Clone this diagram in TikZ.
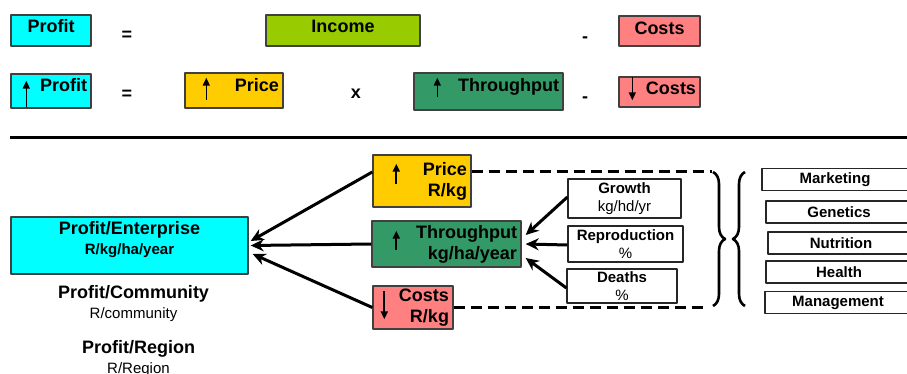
\documentclass[tikz,border=0pt]{standalone}
\usepackage{fontspec}
\setmainfont{Liberation Sans}
\usetikzlibrary{arrows.meta,decorations.pathreplacing}
\definecolor{cyanbox}{HTML}{00FFFF}
\definecolor{incomegreen}{HTML}{99CC00}
\definecolor{costred}{HTML}{FF8080}
\definecolor{pricegold}{HTML}{FFCC00}
\definecolor{thrugreen}{HTML}{339966}
\tikzset{
  box/.style={draw=black!75, line width=1.4pt, inner xsep=4pt, inner ysep=0pt, font=\fontsize{18}{21}\selectfont\bfseries},
  sbox/.style={draw=black!85, line width=1.2pt, fill=white, inner sep=0pt, font=\fontsize{15}{18}\selectfont},
  sym/.style={anchor=base, font=\fontsize{18}{21}\selectfont\bfseries},
  arr/.style={line width=3pt, -{Stealth[length=13pt,width=12pt]}},
  tick/.style={line width=1.6pt, -{Triangle[length=8pt,width=7pt]}},
  dashline/.style={line width=3pt, dash pattern=on 11pt off 6pt},
  curly/.style={decorate, decoration={brace, amplitude=#1}, line width=2.6pt}
}
\begin{document}
\begin{tikzpicture}[x=1pt, y=-1pt, line join=round]
\useasboundingbox (0,0) rectangle (907,374);
\clip (0,0) rectangle (907,374);
% first row
\node[box, fill=cyanbox, minimum width=80pt, minimum height=31pt, text depth=9pt] (profA) at (51,30.5) {Profit};
\node[sym] (eqA) at (127,40.8) {=};
\node[box, fill=incomegreen, minimum width=154pt, minimum height=31pt, text depth=9pt] (income) at (343,30.5) {Income};
\node[sym] (minA) at (585,42.5) {-};
\node[box, fill=costred, minimum width=81pt, minimum height=30pt, text depth=6pt] (costA) at (659.5,31) {Costs};
% second row
\node[box, fill=cyanbox, text width=72pt, align=right, minimum height=34pt, text depth=12pt] (profB) at (51,91) {Profit};
\draw[tick] (profB.south west) ++(16,-2) -- ++(0,-26);
\node[sym] (eqB) at (127,99.8) {=};
\node[box, fill=pricegold, text width=90pt, align=right, minimum height=35pt, text depth=11pt] (priceB) at (234,90.5) {Price};
\draw[tick] (priceB.south west) ++(22,-9) -- ++(0,-22);
\node[sym] (times) at (356,98.7) {x};
\node[box, fill=thrugreen, text width=141pt, align=right, minimum height=37pt, text depth=13pt] (thruB) at (488.5,91.5) {Throughput};
\draw[tick] (thruB.south west) ++(24,-14) -- ++(0,-19);
\node[sym] (minB) at (585,102.5) {-};
\node[box, fill=costred, text width=73pt, align=right, minimum height=30pt, text depth=8pt] (costB) at (659.5,92) {Costs};
\draw[tick] (costB.north west) ++(14,1) -- ++(0,23);

\draw[line width=3pt] (10,137.5) -- (907,137.5); % separator

% lower part
\node[box, fill=cyanbox, minimum width=237pt, minimum height=57pt, align=center, text depth=16pt, font=\fontsize{18}{20}\selectfont\bfseries] (ent) at (129.5,245.5) {Profit/Enterprise\\{\fontsize{15}{18}\selectfont R/kg/ha/year}};
\node[font=\fontsize{18}{20}\selectfont, align=center] (comm) at (133.5,304) {\textbf{Profit/Community}\\{\fontsize{15}{18}\selectfont R/community}};
\node[font=\fontsize{18}{20}\selectfont, align=center] (region) at (138.5,359) {\textbf{Profit/Region}\\{\fontsize{15}{18}\selectfont R/Region}};

\coordinate (dashT) at (712,172);
\coordinate (dashB) at (708,307);
\node[box, fill=pricegold, text width=90pt, align=right, minimum height=52pt] (priceC) at (422,181) {Price\\R/kg};
\node[box, fill=costred, text width=72pt, align=right, minimum height=43pt] (costC) at (413,307.5) {Costs\\R/kg};
\draw[dashline] ([yshift=9pt]priceC.east) -- (dashT);
\draw[dashline] ([yshift=0.5pt]costC.east) -- (dashB);
\draw[tick, line width=2pt] (priceC.south west) ++(24,-24) -- ++(0,-20);
\draw[tick, line width=2pt] (costC.north west) ++(12,6) -- ++(0,28);
\node[box, fill=thrugreen, text width=141pt, align=right, minimum height=46pt] (thruC) at (446.5,244) {Throughput\\kg/ha/year};
\draw[tick, line width=2pt] (thruC.south west) ++(25,-18) -- ++(0,-19);

\node[sbox, minimum width=113pt, minimum height=39pt, align=center] (growth) at (624.5,198.5) {\textbf{Growth}\\kg/hd/yr};
\node[sbox, minimum width=115pt, minimum height=36pt, align=center] (repro) at (625.5,244) {\textbf{Reproduction}\\\%};
\node[sbox, minimum width=110pt, minimum height=34pt, align=center] (deaths) at (622,286) {\textbf{Deaths}\\\%};

% arrows into enterprise
\draw[arr] ([yshift=9pt]priceC.west) -- ([xshift=2pt,yshift=4.5pt]ent.east);
\draw[arr] (thruC.west) -- ([xshift=2pt]ent.east);
\draw[arr] (costC.west) -- ([xshift=4pt,yshift=-8.5pt]ent.east);
% arrows into throughput
\draw[arr] ([yshift=1.5pt]growth.west) -- ([xshift=4pt,yshift=9pt]thruC.east);
\draw[arr] ([yshift=-1pt]repro.west) -- ([xshift=4pt]thruC.east);
\draw[arr] ([yshift=-2pt]deaths.west) -- ([xshift=4pt,yshift=-14pt]thruC.east);

% braces
\draw[curly=12pt] (713,172) -- (713,306);
\draw[curly=12pt] (745,306) -- (745,172);

\foreach \nm/\cx/\cy/\txt in {mkt/835/179.5/Marketing, gen/839/212/Genetics, nut/841/243/Nutrition, hlth/839/272/Health, mgmt/838/302.5/Management}
  \node[sbox, font=\fontsize{15}{18}\selectfont\bfseries, minimum width=146pt, minimum height=22pt] (\nm) at (\cx,\cy) {\txt};
\end{tikzpicture}
\end{document}
